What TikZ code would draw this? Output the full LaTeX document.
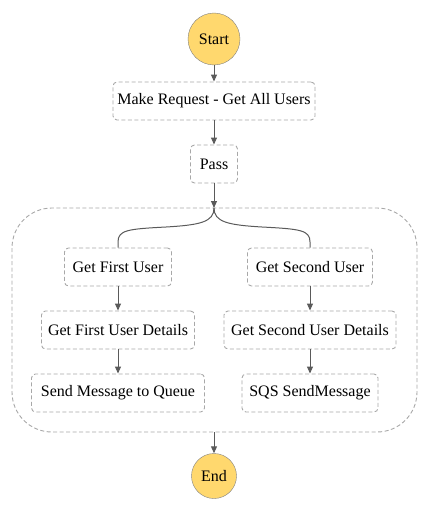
\documentclass[tikz,border=0pt]{standalone}
\usepackage{fontspec}
\setmainfont{Liberation Serif}
\usetikzlibrary{arrows.meta}
\definecolor{stateyellow}{HTML}{FFD86E}
\definecolor{edgegray}{HTML}{5A5A5A}
\definecolor{boxgray}{HTML}{A8A8A8}
\begin{document}
\begin{tikzpicture}[x=1pt, y=-1pt, font=\fontsize{16}{19}\selectfont, line join=round, >={Triangle[length=7pt,width=6pt]},
	terminal/.style={circle, draw=gray, fill=stateyellow, inner sep=0pt},
	state/.style={draw=boxgray, line width=0.9pt, dash pattern=on 4pt off 2.5pt, rounded corners=4pt, minimum height=38pt, inner sep=0pt},
	flow/.style={->, edgegray, line width=1pt}]
	\useasboundingbox (0,0) rectangle (429,511);
	% parallel block
	\draw[boxgray, line width=0.9pt, dash pattern=on 4pt off 2.5pt, rounded corners=40pt] (12,208) rectangle (417,432);
	\coordinate (partop) at (214,208);
	\coordinate (parbot) at (214,432);
	\node[terminal, minimum size=52pt] (start) at (214,39) {Start};
	\node[state, minimum width=202pt] (request) at (214,101) {Make Request - Get All Users};
	\node[state, minimum width=47pt] (pass) at (214,164) {Pass};
	\node[state, minimum width=107pt] (first) at (118,267) {Get First User};
	\node[state, minimum width=125pt] (second) at (310,267) {Get Second User};
	\node[state, minimum width=153pt] (firstdet) at (118,330) {Get First User Details};
	\node[state, minimum width=172pt] (seconddet) at (310,330) {Get Second User Details};
	\node[state, minimum width=173pt] (queue) at (118,393) {Send Message to Queue};
	\node[state, minimum width=136pt] (sqs) at (310,393) {SQS SendMessage};
	\node[terminal, minimum size=45pt] (end) at (214,476) {End};
	\draw[flow] (start) -- (request);
	\draw[flow] (request) -- (pass);
	\draw[flow] (pass) -- (partop);
	\draw[edgegray, line width=1pt] (partop) .. controls (214,222) and (200,225) .. (166,227) .. controls (128,229) and (118,230) .. (118,242) -- (first.north);
	\draw[edgegray, line width=1pt] (partop) .. controls (214,222) and (228,225) .. (262,227) .. controls (300,229) and (310,230) .. (310,242) -- (second.north);
	\draw[flow] (first) -- (firstdet);
	\draw[flow] (firstdet) -- (queue);
	\draw[flow] (second) -- (seconddet);
	\draw[flow] (seconddet) -- (sqs);
	\draw[flow] (parbot) -- (end);
\end{tikzpicture}
\end{document}
